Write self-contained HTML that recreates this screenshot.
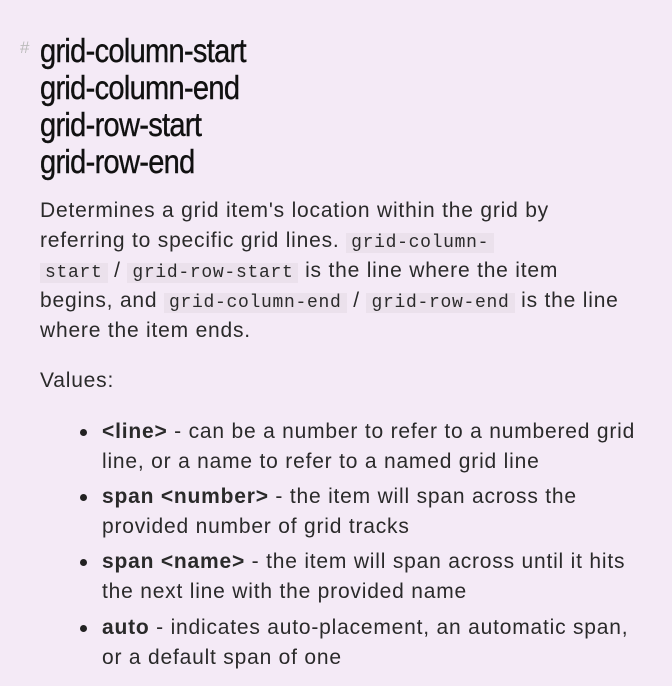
<!DOCTYPE html>
<html><head><style>
body{margin:0;background:#f4eaf6;width:672px;height:686px;overflow:hidden;font-family:"Liberation Sans",sans-serif;color:#222;}
.h{position:absolute;left:40px;font-family:"Liberation Sans",sans-serif;font-size:33px;color:#111;letter-spacing:-0.8px;line-height:37px;top:32px;transform:scaleX(0.88);transform-origin:0 0;-webkit-text-stroke:0.4px #111;}
.hash{position:absolute;left:20px;top:38px;color:#bbb;font-size:17px;}
.t{position:absolute;font-size:21px;letter-spacing:0.8px;line-height:30px;white-space:nowrap;color:#2a2a2a;}
code{font-family:"Liberation Mono",monospace;font-size:18px;letter-spacing:0.7px;background:#ebe1ec;padding:0 5px;line-height:1;}
.b{position:absolute;left:80px;width:7px;height:7px;border-radius:50%;background:#222;}
</style></head><body>
<div class="hash">#</div>
<div class="h">grid-column-start<br>grid-column-end<br>grid-row-start<br>grid-row-end</div>
<div class="t" style="left:40px;top:196px">Determines a grid item's location within the grid by<br>referring to specific grid lines. <code>grid-column-</code><br><code>start</code> / <code>grid-row-start</code> is the line where the item<br>begins, and <code>grid-column-end</code> / <code>grid-row-end</code> is the line<br>where the item ends.</div>
<div class="t" style="left:40px;top:366px">Values:</div>
<div class="b" style="top:429px"></div>
<div class="t" style="left:102px;top:417px"><b>&lt;line&gt;</b> - can be a number to refer to a numbered grid<br>line, or a name to refer to a named grid line</div>
<div class="b" style="top:494px"></div>
<div class="t" style="left:102px;top:482px"><b>span &lt;number&gt;</b> - the item will span across the<br>provided number of grid tracks</div>
<div class="b" style="top:559px"></div>
<div class="t" style="left:102px;top:547px"><b>span &lt;name&gt;</b> - the item will span across until it hits<br>the next line with the provided name</div>
<div class="b" style="top:625px"></div>
<div class="t" style="left:102px;top:613px"><b>auto</b> - indicates auto-placement, an automatic span,<br>or a default span of one</div>
</body></html>
